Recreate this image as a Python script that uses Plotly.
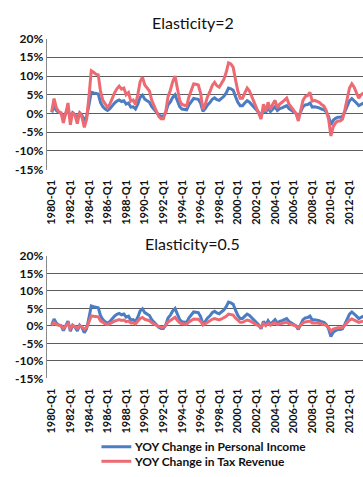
import plotly.graph_objects as go

W, H = 363, 477

# Quarter labels 1980-Q1 .. 2013-Q3
quarters = [f"{y}-Q{q}" for y in range(1980, 2014) for q in range(1, 5)][:135]

# Year-over-year change in personal income (%)
income = [
    0.3, 2.0, 0.8, 0.3, 0.1, -1.3, 0.0, 1.4, -1.5, 0.2, -0.3, -1.4, 0.2, -0.5, -1.9, -0.8,
    2.3, 5.7, 5.5, 5.3, 5.2, 2.9, 1.8, 1.2, 0.8, 1.3, 2.1, 2.8, 3.3, 3.6, 3.2, 3.4,
    2.5, 2.8, 1.7, 1.8, 1.2, 2.5, 4.3, 4.9, 3.8, 3.4, 3.0, 1.8, 1.0, 0.4, -0.4, -0.7,
    -0.7, 0.3, 2.3, 3.1, 4.3, 5.0, 3.3, 1.8, 1.2, 1.1, 1.0, 2.3, 3.3, 4.0, 3.9, 3.8,
    2.7, 0.6, 1.3, 2.3, 2.9, 3.8, 4.2, 3.7, 3.5, 4.0, 4.6, 5.5, 6.8, 6.6, 6.2, 4.5,
    3.0, 2.1, 2.1, 2.8, 3.4, 3.0, 2.3, 1.7, 0.8, 0.3, -0.8, 1.3, 0.3, 1.5, 0.5, 1.3,
    1.8, 0.8, 1.3, 1.5, 1.8, 2.1, 1.3, 0.8, 0.5, 0.0, -1.0, 0.5, 1.8, 2.3, 2.4, 2.8,
    1.7, 1.8, 1.7, 1.5, 1.2, 1.0, 0.4, -0.8, -3.0, -1.8, -1.3, -1.0, -1.0, -0.8, 0.5, 2.0,
    3.4, 4.0, 3.5, 2.8, 2.1, 2.5, 2.8,
]

# Year-over-year change in tax revenue, elasticity 2 (%)
tax_e2 = [
    0.5, 4.0, 1.5, 0.5, 0.2, -2.5, 0.0, 2.8, -3.0, 0.3, -0.5, -2.7, 0.3, -1.0, -3.7, -1.5,
    4.5, 11.4, 11.0, 10.5, 10.3, 5.8, 3.5, 2.4, 1.6, 2.5, 4.1, 5.5, 6.6, 7.3, 6.5, 6.8,
    5.0, 5.6, 3.3, 3.6, 2.4, 5.0, 8.5, 9.7, 7.6, 6.8, 6.0, 3.5, 2.0, 0.8, -0.8, -1.4,
    -1.4, 0.5, 4.5, 6.2, 8.5, 10.0, 6.5, 3.5, 2.4, 2.2, 2.0, 4.5, 6.5, 7.9, 7.8, 7.6,
    5.4, 1.1, 2.5, 4.5, 5.8, 7.5, 8.3, 7.4, 7.0, 8.0, 9.1, 11.0, 13.5, 13.2, 12.3, 9.0,
    6.0, 4.1, 4.1, 5.5, 6.8, 6.0, 4.5, 3.3, 1.6, 0.5, -1.5, 2.5, 0.5, 3.0, 1.0, 2.5,
    3.5, 1.5, 2.5, 3.0, 3.5, 4.1, 2.5, 1.6, 1.0, 0.0, -2.0, 1.0, 3.5, 4.5, 4.8, 5.6,
    3.3, 3.5, 3.3, 3.0, 2.4, 2.0, 0.8, -1.5, -6.0, -3.5, -2.5, -2.0, -2.0, -1.5, 1.0, 4.0,
    6.8, 7.9, 7.0, 5.5, 4.1, 5.0, 5.5,
]

# Year-over-year change in tax revenue, elasticity 0.5 (%)
tax_e05 = [
    0.15, 1.0, 0.4, 0.15, 0.05, -0.65, 0.0, 0.7, -0.75, 0.1, -0.15, -0.7, 0.1, -0.25, -0.95, -0.4,
    1.15, 2.85, 2.75, 2.65, 2.6, 1.45, 0.9, 0.6, 0.4, 0.65, 1.05, 1.4, 1.65, 1.8, 1.6, 1.7,
    1.25, 1.4, 0.85, 0.9, 0.6, 1.25, 2.15, 2.45, 1.9, 1.7, 1.5, 0.9, 0.5, 0.2, -0.2, -0.35,
    -0.35, 0.15, 1.15, 1.55, 2.15, 2.5, 1.65, 0.9, 0.6, 0.55, 0.5, 1.15, 1.65, 2.0, 1.95, 1.9,
    1.35, 0.3, 0.65, 1.15, 1.45, 1.9, 2.1, 1.85, 1.75, 2.0, 2.3, 2.75, 3.4, 3.3, 3.1, 2.25,
    1.5, 1.05, 1.05, 1.4, 1.7, 1.5, 1.15, 0.85, 0.4, 0.15, -0.4, 0.65, 0.15, 0.75, 0.25, 0.65,
    0.9, 0.4, 0.65, 0.75, 0.9, 1.05, 0.65, 0.4, 0.25, 0.0, -0.5, 0.25, 0.9, 1.15, 1.2, 1.4,
    0.85, 0.9, 0.85, 0.75, 0.6, 0.5, 0.2, -0.4, -1.5, -0.9, -0.65, -0.5, -0.5, -0.4, 0.25, 1.0,
    1.7, 2.0, 1.75, 1.4, 1.05, 1.25, 1.4,
]

x_tick_labels = ["1980-Q1", "1982-Q1", "1984-Q1", "1986-Q1", "1988-Q1", "1990-Q1",
                 "1992-Q1", "1994-Q1", "1996-Q1", "1998-Q1", "2000-Q1", "2002-Q1",
                 "2004-Q1", "2006-Q1", "2008-Q1", "2010-Q1", "2012-Q1"]
y_tick_values = [-15, -10, -5, 0, 5, 10, 15, 20]
y_tick_labels = ["-15%", "-10%", "-5%", "0%", "5%", "10%", "15%", "20%"]
panel_titles = ["Elasticity=2", "Elasticity=0.5"]
series_names = ["YOY Change in Personal Income", "YOY Change in Tax Revenue"]

BLUE = "#4A7DC4"
RED = "#EE6A72"
GRID = "#5c5c5c"
FONT = "Lato"


def py(p):
    return 1 - p / H


fig = go.Figure()

for i, tax in enumerate([tax_e2, tax_e05]):
    sfx = "" if i == 0 else "2"
    fig.add_trace(go.Scatter(x=quarters, y=income, mode="lines", name=series_names[0],
                             line=dict(color=BLUE, width=3),
                             xaxis="x" + sfx, yaxis="y" + sfx, showlegend=False))
    fig.add_trace(go.Scatter(x=quarters, y=tax, mode="lines", name=series_names[1],
                             line=dict(color=RED, width=3),
                             xaxis="x" + sfx, yaxis="y" + sfx, showlegend=False))

x_common = dict(
    type="category",
    range=[-2.14, 133.8],
    domain=[45 / W, 1],
    tickmode="array",
    tickvals=x_tick_labels,
    ticktext=x_tick_labels,
    tickangle=-90,
    showgrid=False,
    zeroline=False,
    showline=False,
    ticks="",
    ticklabelstandoff=7,
    tickfont=dict(family=FONT, size=11, color="#111", weight="bold"),
)
y_common = dict(
    range=[-15, 20],
    tickmode="array",
    tickvals=y_tick_values,
    ticktext=y_tick_labels,
    showgrid=True,
    gridcolor=GRID,
    gridwidth=1,
    zeroline=False,
    showline=True,
    linecolor="#8a8a8a",
    linewidth=1,
    ticks="",
    tickfont=dict(family=FONT, size=12, color="#111", weight="bold"),
)

fig.update_layout(
    width=W, height=H,
    margin=dict(l=0, r=0, t=0, b=0),
    paper_bgcolor="white", plot_bgcolor="white",
    xaxis=dict(x_common, anchor="y"),
    yaxis=dict(y_common, domain=[py(167), py(31.5)], anchor="x"),
    xaxis2=dict(x_common, anchor="y2"),
    yaxis2=dict(y_common, domain=[py(382.5), py(256)], anchor="x2"),
    showlegend=False,
)

for title, ypix in zip(panel_titles, [15, 243]):
    fig.add_annotation(text=title, x=192 / W, y=py(ypix), xref="paper", yref="paper",
                       xanchor="center", yanchor="middle", showarrow=False,
                       font=dict(family=FONT, size=16, color="#111"))

# Key below the lower panel
for name, color, ypix in zip(series_names, [BLUE, RED], [453, 468]):
    fig.add_shape(type="line", xref="paper", yref="paper",
                  x0=100 / W, x1=130 / W, y0=py(ypix), y1=py(ypix),
                  line=dict(color=color, width=3))
    fig.add_annotation(text=name, x=131 / W, y=py(ypix), xref="paper", yref="paper",
                       xanchor="left", yanchor="middle", showarrow=False,
                       font=dict(family=FONT, size=12, color="#111", weight="bold"))

fig.write_html("out.html")
